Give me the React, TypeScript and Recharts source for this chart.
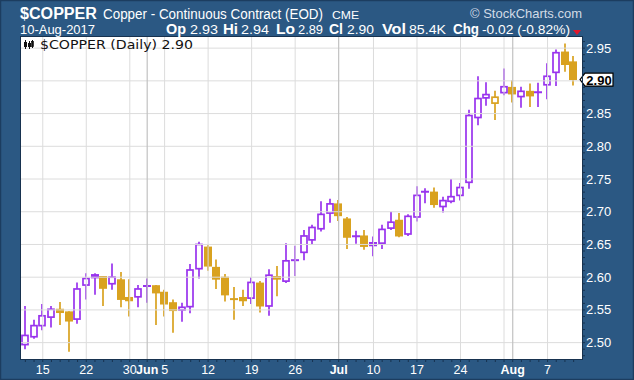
import { Bar, CartesianGrid, ComposedChart, ReferenceLine, XAxis, YAxis } from "recharts";

const NAVY = "#2b5883";
const TICK_DARK = "#17324f";
const PURPLE = "#9933ee";
const GOLD = "#d9a21f";

// trading days, May 11 - Aug 10 2017
const dates = [
  "May 11", "May 12", "May 15", "May 16", "May 17", "May 18", "May 19", "May 22", "May 23", "May 24",
  "May 25", "May 26", "May 30", "May 31", "Jun 1", "Jun 2", "Jun 5", "Jun 6", "Jun 7", "Jun 8",
  "Jun 9", "Jun 12", "Jun 13", "Jun 14", "Jun 15", "Jun 16", "Jun 19", "Jun 20", "Jun 21", "Jun 22",
  "Jun 23", "Jun 26", "Jun 27", "Jun 28", "Jun 29", "Jun 30", "Jul 3", "Jul 5", "Jul 6", "Jul 7",
  "Jul 10", "Jul 11", "Jul 12", "Jul 13", "Jul 14", "Jul 17", "Jul 18", "Jul 19", "Jul 20", "Jul 21",
  "Jul 24", "Jul 25", "Jul 26", "Jul 27", "Jul 28", "Jul 31", "Aug 1", "Aug 2", "Aug 3", "Aug 4",
  "Aug 7", "Aug 8", "Aug 9", "Aug 10"
];

const opens = [
  2.497, 2.509, 2.526, 2.539, 2.551, 2.547, 2.536, 2.588, 2.604, 2.601,
  2.590, 2.596, 2.569, 2.570, 2.586, 2.587, 2.577, 2.561, 2.550, 2.555,
  2.613, 2.646, 2.615, 2.600, 2.567, 2.569, 2.568, 2.591, 2.556, 2.601,
  2.594, 2.625, 2.638, 2.657, 2.674, 2.698, 2.712, 2.689, 2.662, 2.663,
  2.653, 2.652, 2.675, 2.687, 2.666, 2.692, 2.730, 2.730, 2.708, 2.716,
  2.725, 2.745, 2.844, 2.874, 2.866, 2.882, 2.890, 2.876, 2.884, 2.882,
  2.894, 2.913, 2.944, 2.929
];

const highs = [
  2.556, 2.535, 2.559, 2.556, 2.562, 2.548, 2.592, 2.606, 2.606, 2.602,
  2.621, 2.608, 2.597, 2.588, 2.598, 2.588, 2.581, 2.566, 2.561, 2.620,
  2.654, 2.650, 2.627, 2.605, 2.585, 2.581, 2.600, 2.594, 2.612, 2.617,
  2.652, 2.648, 2.672, 2.680, 2.716, 2.720, 2.718, 2.692, 2.671, 2.672,
  2.662, 2.680, 2.700, 2.698, 2.696, 2.739, 2.736, 2.737, 2.723, 2.750,
  2.744, 2.856, 2.907, 2.898, 2.885, 2.919, 2.901, 2.891, 2.896, 2.897,
  2.927, 2.948, 2.957, 2.938
];

const lows = [
  2.490, 2.506, 2.519, 2.523, 2.527, 2.486, 2.529, 2.566, 2.573, 2.556,
  2.581, 2.554, 2.540, 2.554, 2.561, 2.527, 2.540, 2.515, 2.532, 2.545,
  2.598, 2.610, 2.582, 2.563, 2.535, 2.556, 2.559, 2.546, 2.541, 2.571,
  2.591, 2.602, 2.626, 2.649, 2.670, 2.683, 2.686, 2.643, 2.651, 2.642,
  2.632, 2.643, 2.672, 2.661, 2.663, 2.685, 2.713, 2.706, 2.699, 2.713,
  2.717, 2.735, 2.832, 2.862, 2.840, 2.878, 2.867, 2.859, 2.860, 2.860,
  2.872, 2.892, 2.914, 2.893
];

const closes = [
  2.511, 2.526, 2.541, 2.551, 2.546, 2.533, 2.582, 2.598, 2.599, 2.583,
  2.600, 2.566, 2.564, 2.582, 2.587, 2.576, 2.559, 2.549, 2.554, 2.611,
  2.650, 2.617, 2.597, 2.573, 2.566, 2.564, 2.592, 2.556, 2.603, 2.597,
  2.625, 2.627, 2.663, 2.676, 2.696, 2.712, 2.694, 2.661, 2.663, 2.647,
  2.648, 2.673, 2.684, 2.663, 2.693, 2.725, 2.731, 2.711, 2.717, 2.723,
  2.737, 2.847, 2.873, 2.879, 2.875, 2.891, 2.880, 2.884, 2.877, 2.883,
  2.907, 2.943, 2.925, 2.902
];

// x axis labels and grid
const xLabels: Record<string, string> = {
  "May 15": "15", "May 22": "22", "May 30": "30", "Jun 1": "Jun", "Jun 5": "5",
  "Jun 12": "12", "Jun 19": "19", "Jun 26": "26", "Jul 3": "Jul", "Jul 10": "10",
  "Jul 17": "17", "Jul 24": "24", "Aug 1": "Aug", "Aug 7": "7"
};
const monthLabels = ["Jun", "Jul", "Aug"];
const weekStarts = ["May 15", "May 22", "May 30", "Jun 5", "Jun 12", "Jun 19", "Jun 26", "Jul 10", "Jul 17", "Jul 24", "Jul 31", "Aug 7"];
const monthStarts = ["Jun 1", "Jul 3", "Aug 1"];

const yLabels = [2.5, 2.55, 2.6, 2.65, 2.7, 2.75, 2.8, 2.85, 2.9, 2.95];
const yDomain = [2.475, 2.967];

const headerStats = [
  { label: "Op", value: "2.93" },
  { label: "Hi", value: "2.94" },
  { label: "Lo", value: "2.89" },
  { label: "Cl", value: "2.90" },
  { label: "Vol", value: "85.4K" },
  { label: "Chg", value: "-0.02 (-0.82%)" }
];
// x positions / widths of the header pieces
const statLayout = [
  { lx: 166, lw: 20, vx: 190, vw: 28 },
  { lx: 223, lw: 15, vx: 241, vw: 28 },
  { lx: 276, lw: 19, vx: 298, vw: 25 },
  { lx: 329, lw: 14, vx: 347, vw: 27 },
  { lx: 382, lw: 24, vx: 409, vw: 37 },
  { lx: 453, lw: 26, vx: 482, vw: 88 }
];

const lastClose = closes[closes.length - 1];

const data = dates.map((date, i) => ({
  date,
  open: opens[i],
  high: highs[i],
  low: lows[i],
  close: closes[i],
  prev: i > 0 ? closes[i - 1] : opens[i],
  range: [lows[i], highs[i]]
}));

// minor ticks every 0.01, price tag tick last so it draws on top
const yTicks = [
  ...Array.from({ length: 49 }, (_, k) => Math.round((2.48 + k * 0.01) * 100) / 100),
  lastClose
];

function CandleShape(props: any) {
  const { x, y, width, height, payload } = props;
  if (!payload) return null;
  const { open, high, low, close, prev } = payload;
  const top = Math.min(y, y + height);
  const h = Math.abs(height);
  const toY = (v: number) => top + (high === low ? 0 : ((high - v) / (high - low)) * h);
  const cx = Math.round(x + width / 2);
  const color = close >= prev ? PURPLE : GOLD;
  const hollow = close >= open;
  const bTop = toY(Math.max(open, close));
  const bBot = toY(Math.min(open, close));
  const bh = bBot - bTop;
  return (
    <g>
      <line x1={cx} x2={cx} y1={top} y2={top + h} stroke={color} strokeWidth={1.7} />
      {bh < 1.8 ? (
        <line x1={cx - 4} x2={cx + 4} y1={(bTop + bBot) / 2} y2={(bTop + bBot) / 2} stroke={color} strokeWidth={2} />
      ) : hollow ? (
        <rect x={cx - 3} y={bTop} width={6} height={bh} fill="#fff" stroke={color} strokeWidth={1.7} />
      ) : (
        <rect x={cx - 4} y={bTop - 0.5} width={8} height={bh + 1} fill={color} />
      )}
    </g>
  );
}

function XTick(props: any) {
  const { x, y, payload } = props;
  const label = xLabels[payload.value];
  const bold = label && monthLabels.includes(label);
  return (
    <g>
      <line x1={x} x2={x} y1={y} y2={y + 3} stroke={TICK_DARK} strokeWidth={1} />
      {label && (
        <text x={x} y={y + 15} textAnchor="middle" fill="#fff" fontSize={bold ? 12.5 : 12.5} fontWeight={bold ? 700 : 400}>
          {label}
        </text>
      )}
    </g>
  );
}

function YTick(props: any) {
  const { x, y, payload, index } = props;
  const v = payload.value as number;
  if (index === yTicks.length - 1) {
    // last price tag
    return (
      <g>
        <path d={`M${x - 2} ${y} L${x + 3} ${y - 6.5} L${x + 31} ${y - 6.5} L${x + 31} ${y + 6.5} L${x + 3} ${y + 6.5} Z`} fill="#fff" stroke="#000" strokeWidth={1.2} />
        <text x={x + 17} y={y + 5} textAnchor="middle" fill="#000" fontSize={13} fontWeight={700}>
          {v.toFixed(2)}
        </text>
      </g>
    );
  }
  const major = yLabels.some((m) => Math.abs(m - v) < 1e-6);
  const hidden = Math.abs(v - lastClose) < 0.01;
  return (
    <g>
      <line x1={x} x2={x + 3} y1={y} y2={y} stroke={TICK_DARK} strokeWidth={1} />
      {major && !hidden && (
        <text x={x + 4} y={y + 4.5} fill="#fff" fontSize={13}>
          {v.toFixed(2)}
        </text>
      )}
    </g>
  );
}

function CandleIcon() {
  return (
    <g fill="#111" stroke="#111">
      <line x1={25.5} x2={25.5} y1={40} y2={49} strokeWidth={1} />
      <rect x={24} y={42} width={3} height={5} stroke="none" />
      <line x1={29.5} x2={29.5} y1={41} y2={49} strokeWidth={1} />
      <rect x={28} y={43} width={3} height={4} stroke="none" />
      <line x1={32.5} x2={32.5} y1={40} y2={48} strokeWidth={1} />
      <rect x={31.5} y={41.5} width={2} height={5} fill="none" strokeWidth={0.8} />
    </g>
  );
}

export default function App() {
  return (
    <div
      style={{
        position: "absolute",
        left: 0,
        top: 0,
        width: 634,
        height: 380,
        background: NAVY,
        overflow: "hidden",
        fontFamily: "'Liberation Sans', Arial, sans-serif"
      }}
    >
      <ComposedChart
        width={634}
        height={380}
        data={data}
        margin={{ top: 37, right: 0, bottom: 0, left: 21 }}
        style={{ position: "absolute", left: 0, top: 0 }}
      >
        <CartesianGrid fill="#ffffff" horizontal={false} vertical={false} />
        {yLabels.map((v) => (
          <ReferenceLine key={`h${v}`} y={v} stroke="#dcdcdc" strokeWidth={1} />
        ))}
        {weekStarts.map((d) => (
          <ReferenceLine key={`w${d}`} x={d} stroke="#dcdcdc" strokeWidth={1} />
        ))}
        {monthStarts.map((d) => (
          <ReferenceLine key={`m${d}`} x={d} stroke="#c2c2c2" strokeWidth={1.2} />
        ))}
        <XAxis
          dataKey="date"
          interval={0}
          axisLine={false}
          tickLine={false}
          tickSize={0}
          tickMargin={0}
          height={21}
          padding={{ left: 0, right: 4 }}
          tick={<XTick />}
        />
        <YAxis
          type="number"
          orientation="right"
          domain={yDomain}
          allowDataOverflow
          ticks={yTicks}
          interval={0}
          axisLine={false}
          tickLine={false}
          tickSize={0}
          tickMargin={0}
          width={52}
          tick={<YTick />}
        />
        <Bar dataKey="range" barSize={6} shape={<CandleShape />} isAnimationActive={false} />
      </ComposedChart>

      <svg
        width={634}
        height={380}
        style={{ position: "absolute", left: 0, top: 0, pointerEvents: "none" }}
        fontFamily="'Liberation Sans', Arial, sans-serif"
      >
        <rect x={0.5} y={0.5} width={633} height={379} fill="none" stroke="#1c3d60" strokeWidth={1.5} />
        <rect x={20.5} y={36.5} width={562} height={323} fill="none" stroke="#17324f" strokeWidth={1} />

        <text x={20} y={18.5} fill="#fff" fontSize={16} fontWeight={700} textLength={77} lengthAdjust="spacingAndGlyphs">
          $COPPER
        </text>
        <text x={103} y={18.5} fill="#fff" fontSize={14} textLength={220} lengthAdjust="spacingAndGlyphs">
          Copper - Continuous Contract (EOD)
        </text>
        <text x={332} y={18.5} fill="#fff" fontSize={11} textLength={27} lengthAdjust="spacingAndGlyphs">
          CME
        </text>
        <text x={470} y={18} fill="#d2dbe6" fontSize={13} textLength={112} lengthAdjust="spacingAndGlyphs">
          © StockCharts.com
        </text>

        <text x={20} y={34} fill="#fff" fontSize={13} textLength={75} lengthAdjust="spacingAndGlyphs">
          10-Aug-2017
        </text>
        {headerStats.map((s, i) => (
          <g key={s.label}>
            <text x={statLayout[i].lx} y={34} fill="#fff" fontSize={14} fontWeight={700} textLength={statLayout[i].lw} lengthAdjust="spacingAndGlyphs">
              {s.label}
            </text>
            <text x={statLayout[i].vx} y={34} fill="#fff" fontSize={13} textLength={statLayout[i].vw} lengthAdjust="spacingAndGlyphs">
              {s.value}
            </text>
          </g>
        ))}
        <path d="M573 30 L581 30 L577 35 Z" fill="#e0182d" />

        <CandleIcon />
        <text x={40} y={49} fill="#111" fontSize={12} fontFamily="'DejaVu Sans', Verdana, sans-serif" textLength={153} lengthAdjust="spacingAndGlyphs">
          $COPPER (Daily) 2.90
        </text>
      </svg>
    </div>
  );
}
